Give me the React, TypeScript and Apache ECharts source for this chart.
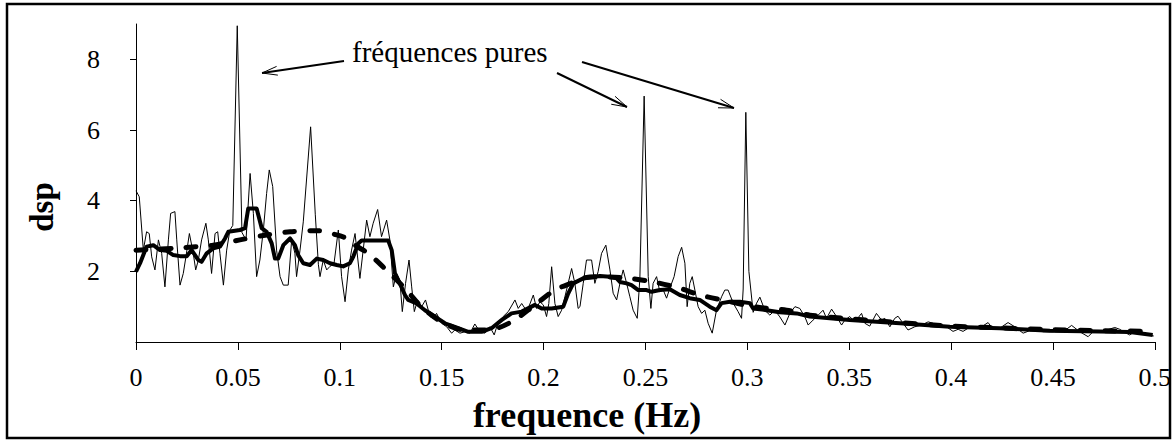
import React, { useEffect, useRef } from "react";
import * as echarts from "echarts";

// ---- data ----
const xTickValues = [0, 0.05, 0.1, 0.15, 0.2, 0.25, 0.3, 0.35, 0.4, 0.45, 0.5];
const yTickValues = [2, 4, 6, 8];

// raw periodogram (thin line)
const rawFreq = [
  0, 0.0016, 0.0036, 0.0052, 0.0065, 0.0077, 0.0093, 0.011, 0.0126, 0.0142, 0.0159, 0.017, 0.0191, 0.02, 0.0216,
  0.0232, 0.0245, 0.0262, 0.0281, 0.0293, 0.0306, 0.0322, 0.0343, 0.0355, 0.0371, 0.0388, 0.0401, 0.0412, 0.0429,
  0.0445, 0.0461, 0.0475, 0.0497, 0.052, 0.054, 0.056, 0.0576, 0.0592, 0.0608, 0.0625, 0.0641, 0.0654, 0.0671,
  0.069, 0.0707, 0.0723, 0.0747, 0.0764, 0.078, 0.0788, 0.0805, 0.0821, 0.0857, 0.088, 0.0895, 0.0903, 0.0919,
  0.0936, 0.0952, 0.0972, 0.0993, 0.1009, 0.1026, 0.1042, 0.1058, 0.1075, 0.1099, 0.1132, 0.1148, 0.1164, 0.1186,
  0.1205, 0.123, 0.1246, 0.1263, 0.1279, 0.1295, 0.1307, 0.1323, 0.134, 0.1353, 0.1366, 0.1382, 0.1402, 0.1421,
  0.1443, 0.1459, 0.1475, 0.15, 0.1525, 0.1549, 0.1565, 0.159, 0.1614, 0.1639, 0.1663, 0.1688, 0.1712, 0.1737,
  0.1758, 0.1778, 0.1802, 0.1827, 0.186, 0.1876, 0.1893, 0.1909, 0.1925, 0.195, 0.1966, 0.1982, 0.1999, 0.2015,
  0.2026, 0.204, 0.2056, 0.2072, 0.2089, 0.2105, 0.2121, 0.2138, 0.2154, 0.217, 0.2179, 0.2195, 0.2211, 0.2236,
  0.2252, 0.2268, 0.2285, 0.2306, 0.2326, 0.2342, 0.2359, 0.2375, 0.2391, 0.2408, 0.2424, 0.244, 0.246, 0.2473,
  0.2494, 0.2514, 0.2527, 0.2538, 0.2555, 0.2571, 0.2588, 0.2604, 0.262, 0.2641, 0.2661, 0.2678, 0.2694, 0.2705,
  0.2718, 0.273, 0.2743, 0.2759, 0.2776, 0.2792, 0.2808, 0.2828, 0.2849, 0.2874, 0.289, 0.2906, 0.2931, 0.2955,
  0.2972, 0.298, 0.2993, 0.3008, 0.3029, 0.3046, 0.3062, 0.3086, 0.3111, 0.3135, 0.316, 0.3185, 0.3209, 0.3234,
  0.3258, 0.3283, 0.3299, 0.3323, 0.3348, 0.3372, 0.3389, 0.3414, 0.3438, 0.3463, 0.3479, 0.3503, 0.3528, 0.3561,
  0.3577, 0.3601, 0.3634, 0.3659, 0.3675, 0.37, 0.3724, 0.374, 0.3765, 0.3789, 0.3822, 0.3855, 0.3888, 0.3912,
  0.3945, 0.3978, 0.401, 0.4035, 0.4059, 0.4084, 0.4108, 0.415, 0.4182, 0.4207, 0.4239, 0.428, 0.4313, 0.4354,
  0.4386, 0.442, 0.4452, 0.4501, 0.4534, 0.4567, 0.4592, 0.4632, 0.4673, 0.4697, 0.473, 0.4763, 0.4804, 0.4828,
  0.4853, 0.4877, 0.4902, 0.4926, 0.4951, 0.4975, 0.4995,
];
const rawDsp = [
  4.28, 4.11, 2.6, 3.12, 3.07, 2.41, 2.04, 2.89, 2.51, 1.56, 2.89, 3.64, 3.69, 2.89, 1.61,
  1.94, 2.41, 3.07, 2.51, 2.04, 2.32, 2.89, 3.36, 2.89, 1.94, 3.07, 3.12, 2.51, 1.61,
  2.6, 3.17, 3.3, 8.95, 3.1, 2.89, 4.77, 3.64, 1.85, 2.32, 3.17, 4.2, 4.87, 4.4,
  2.6, 1.85, 1.61, 1.61, 2.89, 2.51, 1.85, 2.6, 3.4, 6.09, 3.6, 2.2, 1.85, 2.32,
  2.04, 2.14, 2.23, 3.17, 1.85, 1.14, 2.04, 2.6, 3.07, 1.8, 3.45, 2.98, 3.36, 3.75,
  2.98, 3.45, 2.89, 1.56, 1.94, 1.75, 0.86, 1.66, 2.32, 1.56, 0.86, 1.19, 1.0, 1.19,
  0.72, 0.67, 0.81, 0.53, 0.43, 0.25, 0.34, 0.25, 0.29, 0.25, 0.51, 0.29, 0.25, 0.43,
  0.2, 0.57, 0.72, 0.86, 1.19, 0.95, 1.09, 0.95, 0.95, 1.33, 0.95, 1.14, 1.05, 0.72,
  1.09, 2.13, 1.09, 0.72, 0.9, 1.28, 1.66, 2.08, 1.66, 0.95, 1.0, 1.66, 2.32, 2.32,
  1.66, 1.99, 2.51, 2.74, 2.04, 1.38, 1.19, 1.66, 2.04, 1.66, 1.28, 0.9, 0.67, 1.8,
  6.96, 1.85, 0.95, 1.66, 1.85, 1.42, 1.47, 1.24, 1.52, 1.85, 2.42, 2.68, 2.23, 1.0,
  1.66, 1.85, 1.47, 1.0, 0.81, 0.9, 0.53, 0.25, 0.9, 1.28, 1.47, 1.47, 1.1, 0.86,
  0.67, 1.5, 6.5, 2.0, 0.84, 1.1, 1.27, 0.9, 0.76, 0.9, 0.71, 0.48, 0.81, 1.0,
  0.95, 0.71, 0.48, 0.62, 0.76, 0.9, 0.67, 0.93, 0.72, 0.48, 0.62, 0.72, 0.57, 0.81,
  0.53, 0.45, 0.81, 0.62, 0.67, 0.43, 0.67, 0.73, 0.53, 0.34, 0.43, 0.48, 0.57, 0.53,
  0.43, 0.43, 0.3, 0.36, 0.3, 0.39, 0.39, 0.43, 0.55, 0.36, 0.39, 0.55, 0.43, 0.25,
  0.32, 0.34, 0.29, 0.29, 0.34, 0.36, 0.47, 0.29, 0.15, 0.29, 0.29, 0.34, 0.41, 0.36,
  0.27, 0.2, 0.29, 0.32, 0.22, 0.2, 0.17,
];

// moving average (thick solid line)
const avgFreq = [
  0, 0.002, 0.0052, 0.0085, 0.0118, 0.0151, 0.0183, 0.0216, 0.0249, 0.0273, 0.0306, 0.0322, 0.0347, 0.0379, 0.0412,
  0.0437, 0.0453, 0.051, 0.0535, 0.0551, 0.0592, 0.0617, 0.0641, 0.0666, 0.0682, 0.0698, 0.0723, 0.0756, 0.078,
  0.0796, 0.0821, 0.0854, 0.0887, 0.0919, 0.0952, 0.0985, 0.1017, 0.105, 0.1066, 0.1091, 0.1107, 0.1238, 0.1255,
  0.1271, 0.1295, 0.132, 0.1336, 0.1377, 0.1418, 0.1467, 0.1516, 0.1565, 0.1631, 0.1696, 0.1745, 0.1794, 0.1843,
  0.1893, 0.1958, 0.1991, 0.204, 0.2097, 0.2121, 0.2146, 0.2195, 0.2277, 0.2326, 0.2359, 0.2375, 0.2408, 0.2432,
  0.2465, 0.2506, 0.253, 0.2571, 0.262, 0.2669, 0.2718, 0.2767, 0.2816, 0.2849, 0.2874, 0.2915, 0.2964, 0.3013,
  0.3029, 0.3095, 0.316, 0.3242, 0.3307, 0.3503, 0.3749, 0.3994, 0.4239, 0.4485, 0.473, 0.4877, 0.499,
];
const avgDsp = [
  1.99, 2.23, 2.7, 2.74, 2.6, 2.58, 2.46, 2.43, 2.43, 2.6, 2.32, 2.27, 2.51, 2.65, 2.7,
  2.93, 3.12, 3.17, 3.22, 3.78, 3.78, 3.22, 3.12, 2.79, 2.36, 2.36, 2.74, 2.93, 2.74,
  2.46, 2.23, 2.18, 2.36, 2.32, 2.23, 2.18, 2.14, 2.23, 2.41, 2.79, 2.87, 2.87, 2.6,
  1.94, 1.66, 1.33, 1.19, 1.09, 0.9, 0.72, 0.53, 0.43, 0.29, 0.29, 0.39, 0.62, 0.81,
  0.86, 1.05, 0.95, 0.95, 1.0, 1.37, 1.66, 1.8, 1.87, 1.85, 1.8, 1.7, 1.66, 1.61,
  1.47, 1.47, 1.42, 1.47, 1.49, 1.33, 1.24, 1.19, 1.0, 0.9, 1.1, 1.14, 1.14, 1.1,
  0.95, 0.9, 0.84, 0.81, 0.72, 0.62, 0.53, 0.43, 0.39, 0.32, 0.3, 0.28, 0.2,
];

// smoothed spectrum (thick dashed line)
const smoothFreq = [
  0, 0.0183, 0.0298, 0.0379, 0.051, 0.0641, 0.0756, 0.0887, 0.0985, 0.105, 0.1075, 0.1139, 0.1221, 0.132, 0.1402,
  0.15, 0.1614, 0.1729, 0.1843, 0.1958, 0.2056, 0.2154, 0.2179, 0.2277, 0.2424, 0.2539, 0.2669, 0.2767, 0.2915,
  0.3029, 0.3193, 0.3307, 0.3503, 0.3749, 0.3994, 0.4239, 0.4485, 0.473, 0.5,
];
const smoothDsp = [
  2.6, 2.65, 2.7, 2.74, 2.89, 3.03, 3.12, 3.15, 3.03, 2.89, 2.74, 2.51, 2.08, 1.52, 0.99,
  0.57, 0.34, 0.34, 0.57, 1.05, 1.47, 1.71, 1.8, 1.85, 1.8, 1.7, 1.52, 1.33, 1.14,
  1.0, 0.9, 0.76, 0.66, 0.55, 0.45, 0.4, 0.35, 0.32, 0.3,
];

const annotationText = "fréquences pures";
const xTitle = "frequence (Hz)";
const yTitle = "dsp";

const pairs = (f: number[], v: number[]) => f.map((x, i) => [x, v[i]]);

const SERIF = "'Liberation Serif', 'Times New Roman', serif";

function arrow(x1: number, y1: number, x2: number, y2: number) {
  const a = Math.atan2(y2 - y1, x2 - x1);
  const L = 16;
  const phi = (16 * Math.PI) / 180;
  return [
    {
      type: "line",
      shape: { x1, y1, x2, y2 },
      style: { stroke: "#000", lineWidth: 2 },
    },
    {
      type: "polyline",
      shape: {
        points: [
          [x2 - L * Math.cos(a - phi), y2 - L * Math.sin(a - phi)],
          [x2, y2],
          [x2 - L * Math.cos(a + phi), y2 - L * Math.sin(a + phi)],
        ],
      },
      style: { stroke: "#000", lineWidth: 1, fill: "none" },
    },
  ];
}

export default function App() {
  const ref = useRef<HTMLDivElement>(null);
  useEffect(() => {
    if (!ref.current) return;
    const chart = echarts.init(ref.current, null, { renderer: "svg" });
    chart.setOption({
      animation: false,
      backgroundColor: "#fff",
      grid: { left: 136, right: 19, top: 24, bottom: 99, containLabel: false },
      xAxis: {
        type: "value",
        min: 0,
        max: 0.5,
        interval: 0.05,
        axisLine: { show: true, lineStyle: { color: "#000", width: 1 } },
        axisTick: { show: true, length: 8, customValues: xTickValues, lineStyle: { color: "#000" } },
        axisLabel: {
          customValues: xTickValues,
          fontFamily: SERIF,
          fontSize: 26,
          color: "#000",
          margin: 22,
          formatter: (v: number) => String(Number(v.toFixed(2))),
        },
        splitLine: { show: false },
      },
      yAxis: {
        type: "value",
        min: 0,
        max: 9,
        axisLine: { show: true, lineStyle: { color: "#000", width: 1 } },
        axisTick: { show: true, length: 6, customValues: yTickValues, lineStyle: { color: "#000" } },
        axisLabel: {
          customValues: yTickValues,
          fontFamily: SERIF,
          fontSize: 26,
          color: "#000",
          margin: 36,
        },
        splitLine: { show: false },
      },
      series: [
        {
          type: "line",
          data: pairs(rawFreq, rawDsp),
          showSymbol: false,
          symbol: "none",
          lineStyle: { color: "#000", width: 1 },
          z: 2,
        },
        {
          type: "line",
          data: pairs(avgFreq, avgDsp),
          showSymbol: false,
          symbol: "none",
          lineStyle: { color: "#000", width: 4, join: "round" },
          z: 3,
        },
        {
          type: "line",
          data: pairs(smoothFreq, smoothDsp),
          showSymbol: false,
          symbol: "none",
          smooth: 0.3,
          lineStyle: { color: "#000", width: 5, type: [10, 15], cap: "round" },
          z: 4,
        },
      ],
      graphic: [
        {
          type: "rect",
          shape: { x: 7, y: 4, width: 1163, height: 434 },
          style: { stroke: "#000", lineWidth: 2.5, fill: "none" },
          z: 100,
        },
        {
          type: "text",
          x: 587,
          y: 415,
          style: {
            text: xTitle,
            font: `bold 36px ${SERIF}`,
            fill: "#000",
            align: "center",
            verticalAlign: "middle",
          },
        },
        {
          type: "text",
          x: 42,
          y: 207,
          rotation: Math.PI / 2,
          style: {
            text: yTitle,
            font: `bold 33px ${SERIF}`,
            fill: "#000",
            align: "center",
            verticalAlign: "middle",
          },
        },
        {
          type: "text",
          x: 352,
          y: 52,
          style: {
            text: annotationText,
            font: `29px ${SERIF}`,
            fill: "#000",
            verticalAlign: "middle",
            align: "left",
          },
        },
        ...arrow(344, 61, 262, 73),
        ...arrow(557, 73, 627, 107),
        ...arrow(582, 62, 734, 108),
      ],
    });
    return () => chart.dispose();
  }, []);
  return (
    <div
      ref={ref}
      style={{ position: "absolute", left: 0, top: 0, width: 1174, height: 441, background: "#fff" }}
    />
  );
}
